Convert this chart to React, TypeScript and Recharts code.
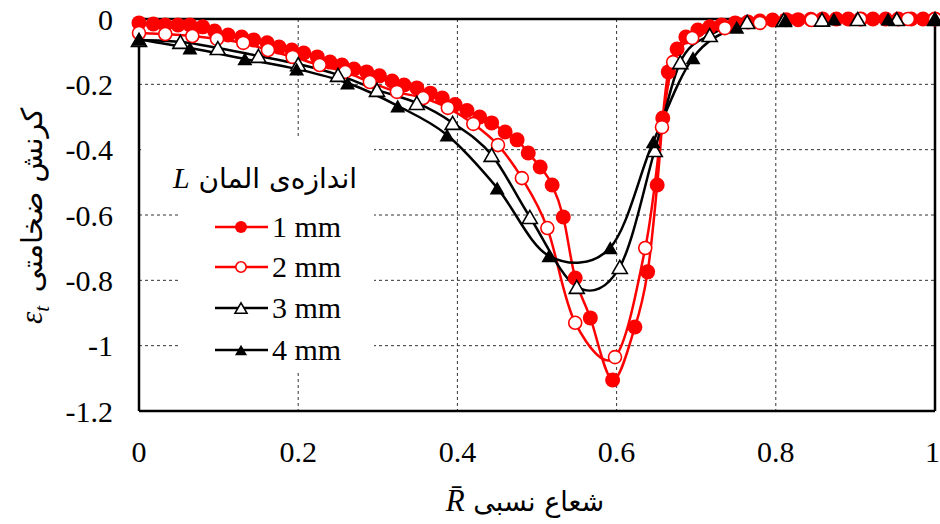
import { LineChart, Line, XAxis, YAxis, CartesianGrid, ReferenceLine, Legend, Label } from 'recharts';

// relative radius (R bar) and thickness strain for each element size L
const r1mm = [
  0, 0.018, 0.033, 0.049, 0.064, 0.08, 0.095, 0.112, 0.129, 0.144, 0.161, 0.176, 0.192, 0.207, 0.224, 0.24,
  0.255, 0.27, 0.286, 0.302, 0.318, 0.333, 0.349, 0.366, 0.381, 0.397, 0.412, 0.428, 0.443, 0.46, 0.475, 0.489,
  0.504, 0.519, 0.533, 0.548, 0.567, 0.595, 0.623, 0.639, 0.651, 0.658, 0.665, 0.676, 0.687, 0.702, 0.717, 0.732,
  0.749, 0.765, 0.78, 0.796, 0.813, 0.828, 0.844, 0.859, 0.876, 0.891, 0.907, 0.922, 0.938, 0.954, 0.97, 0.985, 1,
];
const e1mm = [
  -0.012, -0.015, -0.018, -0.018, -0.018, -0.024, -0.037, -0.049, -0.055, -0.064, -0.073, -0.086, -0.095, -0.104, -0.116, -0.132,
  -0.141, -0.153, -0.162, -0.174, -0.19, -0.202, -0.211, -0.227, -0.242, -0.262, -0.28, -0.3, -0.318, -0.346, -0.37, -0.41,
  -0.453, -0.508, -0.606, -0.793, -0.915, -1.105, -0.943, -0.774, -0.508, -0.303, -0.162, -0.092, -0.055, -0.034, -0.024, -0.018,
  -0.012, -0.009, -0.006, -0.003, -0.002, -0.002, -0.001, 0, 0, 0, 0, 0, 0, 0, 0, 0, 0,
];

const r2mm = [
  0, 0.033, 0.067, 0.098, 0.131, 0.162, 0.193, 0.227, 0.259, 0.29, 0.324, 0.357, 0.388, 0.42, 0.451, 0.481,
  0.513, 0.548, 0.598, 0.636, 0.657, 0.671, 0.695, 0.736, 0.78, 0.845, 0.906, 0.966, 1,
];
const e2mm = [
  -0.043, -0.046, -0.052, -0.061, -0.073, -0.095, -0.116, -0.141, -0.162, -0.193, -0.223, -0.242, -0.272, -0.321, -0.386, -0.487,
  -0.64, -0.93, -1.035, -0.701, -0.331, -0.132, -0.058, -0.028, -0.012, -0.003, 0, 0, 0,
];

const r3mm = [
  0, 0.052, 0.099, 0.15, 0.2, 0.25, 0.299, 0.349, 0.394, 0.443, 0.491, 0.55, 0.604, 0.648, 0.68, 0.717,
  0.764, 0.81, 0.858, 0.903, 0.952, 1,
];
const e3mm = [
  -0.064, -0.07, -0.089, -0.113, -0.138, -0.171, -0.217, -0.257, -0.318, -0.416, -0.606, -0.82, -0.759, -0.401, -0.132, -0.049,
  -0.009, -0.003, -0.002, 0, 0, 0,
];

const r4mm = [0, 0.064, 0.133, 0.198, 0.262, 0.325, 0.387, 0.45, 0.515, 0.592, 0.646, 0.696, 0.751, 0.812, 0.873, 0.941, 1];
const e4mm = [-0.062, -0.089, -0.122, -0.153, -0.196, -0.266, -0.355, -0.517, -0.725, -0.7, -0.376, -0.119, -0.025, -0.003, 0, 0, 0];

const xTicks = [0, 0.2, 0.4, 0.6, 0.8, 1];
const yTicks = [0, -0.2, -0.4, -0.6, -0.8, -1, -1.2];

const toRows = (xs: number[], ys: number[]) => xs.map((x, i) => ({ x, y: ys[i] }));

const series = [
  { name: '1 mm', data: toRows(r1mm, e1mm), color: '#ff0000', marker: 'dot' },
  { name: '2 mm', data: toRows(r2mm, e2mm), color: '#ff0000', marker: 'ring' },
  { name: '3 mm', data: toRows(r3mm, e3mm), color: '#000000', marker: 'openTri' },
  { name: '4 mm', data: toRows(r4mm, e4mm), color: '#000000', marker: 'tri' },
];

const serif = 'Liberation Serif, serif';
const persian = 'DejaVu Sans, sans-serif';

// Excel-like smoothed line (Catmull-Rom through the points)
const smoothCurve = (context: any) => {
  let pts: number[][] = [];
  return {
    areaStart() {},
    areaEnd() {},
    lineStart() {
      pts = [];
    },
    point(x: number, y: number) {
      pts.push([+x, +y]);
    },
    lineEnd() {
      if (!pts.length) return;
      context.moveTo(pts[0][0], pts[0][1]);
      for (let i = 0; i < pts.length - 1; i++) {
        const p0 = pts[i - 1] || pts[i];
        const p1 = pts[i];
        const p2 = pts[i + 1];
        const p3 = pts[i + 2] || p2;
        context.bezierCurveTo(
          p1[0] + (p2[0] - p0[0]) / 6,
          p1[1] + (p2[1] - p0[1]) / 6,
          p2[0] - (p3[0] - p1[0]) / 6,
          p2[1] - (p3[1] - p1[1]) / 6,
          p2[0],
          p2[1],
        );
      }
    },
  };
};

function Marker({ kind, cx, cy, color, scale = 1 }: any) {
  if (kind === 'dot') return <circle cx={cx} cy={cy} r={7.5 * scale} fill={color} />;
  if (kind === 'ring')
    return <circle cx={cx} cy={cy} r={6.5 * scale} fill="#fff" stroke={color} strokeWidth={1.6} />;
  const w = 7.5 * scale;
  const h = 6.5 * scale;
  const pts = `${cx},${cy - h} ${cx - w},${cy + h} ${cx + w},${cy + h}`;
  if (kind === 'tri') return <polygon points={pts} fill={color} />;
  return <polygon points={pts} fill="#fff" stroke={color} strokeWidth={1.6} strokeLinejoin="miter" />;
}

const makeDot = (kind: string, color: string) => (p: any) => {
  if (p.cx == null || p.cy == null) return <g key={`n-${p.index}`} />;
  return <Marker key={`m-${kind}-${p.index}`} kind={kind} cx={p.cx} cy={p.cy} color={color} />;
};

function LegendBox() {
  const rows = [90, 130, 171, 213];
  return (
    <div style={{ position: 'relative', width: 233, height: 235 }}>
      <div style={{ position: 'absolute', left: 0, top: 0, width: 233, height: 64, background: '#fff' }} />
      <div style={{ position: 'absolute', left: 37, top: 64, width: 196, height: 171, background: '#fff' }} />
      <svg width={233} height={235} style={{ position: 'absolute', left: 0, top: 0, overflow: 'visible' }}>
        <text x={124} y={51} textAnchor="middle" direction="rtl" fontSize={28} fill="#000">
          <tspan fontFamily={persian}>{'اندازه\u200Cی المان '}</tspan>
          <tspan fontFamily={serif} fontStyle="italic" fontSize={30}>L</tspan>
        </text>
        {series.map((s, i) => (
          <g key={s.name}>
            <line x1={74} x2={127} y1={rows[i]} y2={rows[i]} stroke={s.color} strokeWidth={2.5} />
            <Marker kind={s.marker} cx={100} cy={rows[i]} color={s.color} scale={0.8} />
            <text x={131} y={rows[i] + 10} fontFamily={serif} fontSize={30} fill="#000">
              {s.name}
            </text>
          </g>
        ))}
      </svg>
    </div>
  );
}

function XTitle({ viewBox }: any) {
  const cx = viewBox.x + viewBox.width / 2 - 12;
  return (
    <text x={cx} y={viewBox.y + 100} textAnchor="middle" direction="rtl" fill="#000" fontSize={27}>
      <tspan fontFamily={persian}>{'شعاع نسبی '}</tspan>
      <tspan fontFamily={serif} fontStyle="italic" fontSize={31}>{'R\u0304'}</tspan>
    </text>
  );
}

function YTitle() {
  return (
    <g transform="translate(42, 217) rotate(-90)">
      <text x={17} y={0} textAnchor="middle" direction="rtl" fontFamily={persian} fontSize={29} fill="#000">
        کرنش ضخامتی
      </text>
      <text x={-107} y={0} fontFamily={serif} fontStyle="italic" fontSize={31} fill="#000">
        ε<tspan fontSize={21} dy={7}>t</tspan>
      </text>
    </g>
  );
}

export default function App() {
  const tickStyle = { fill: '#000', fontSize: 30, fontFamily: serif };
  return (
    <div style={{ position: 'absolute', left: 0, top: 0, width: 940, height: 524, background: '#fff' }}>
      <LineChart width={940} height={524} margin={{ top: 19, right: 5, bottom: 0, left: 0 }}>
        <CartesianGrid stroke="#333" strokeDasharray="3 3" strokeWidth={1} />
        <XAxis
          type="number"
          dataKey="x"
          domain={[0, 1]}
          ticks={xTicks}
          height={113}
          tickLine={false}
          tickMargin={24}
          axisLine={{ stroke: '#000', strokeWidth: 2.5 }}
          tick={tickStyle}
          tickFormatter={(v: number) => String(v)}
        >
          <Label content={XTitle} />
        </XAxis>
        <YAxis
          type="number"
          dataKey="y"
          domain={[-1.2, 0]}
          ticks={yTicks}
          width={139}
          tickLine={false}
          tickMargin={20}
          axisLine={{ stroke: '#000', strokeWidth: 2.5 }}
          tick={tickStyle}
          tickFormatter={(v: number) => String(Number(v.toFixed(1)))}
        >
          <Label content={YTitle} />
        </YAxis>
        <ReferenceLine y={0} stroke="#000" strokeWidth={2.5} />
        <ReferenceLine x={1} stroke="#000" strokeWidth={2.5} />
        {series.map((s) => (
          <Line
            key={s.name}
            data={s.data}
            dataKey="y"
            name={s.name}
            type={smoothCurve as any}
            stroke={s.color}
            strokeWidth={2.5}
            dot={makeDot(s.marker, s.color)}
            activeDot={false}
            isAnimationActive={false}
          />
        ))}
        <Legend
          layout="horizontal"
          verticalAlign="middle"
          align="center"
          content={LegendBox}
          wrapperStyle={{ left: 141, top: 137, width: 233, height: 235 }}
        />
      </LineChart>
    </div>
  );
}
